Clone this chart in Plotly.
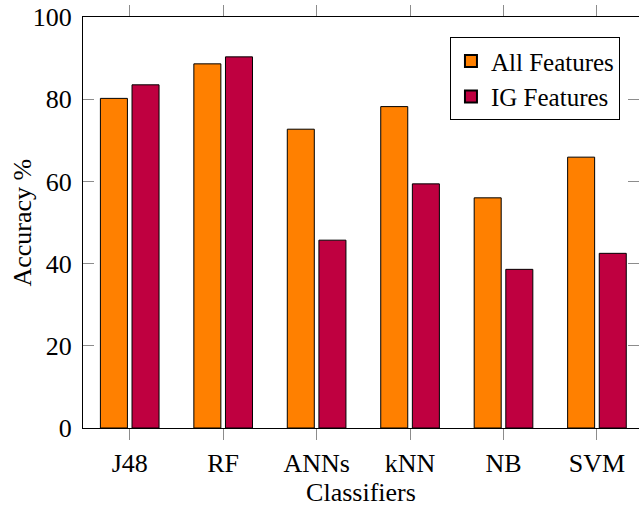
import plotly.graph_objects as go

classifiers = ["J48", "RF", "ANNs", "kNN", "NB", "SVM"]
all_features = [80.2, 88.6, 72.7, 78.2, 56.0, 65.9]
ig_features = [83.5, 90.3, 45.7, 59.4, 38.6, 42.5]
y_ticks = [0, 20, 40, 60, 80, 100]

FONT = "Liberation Serif"

fig = go.Figure()
fig.add_trace(go.Bar(x=classifiers, y=all_features, name="All Features",
                     marker=dict(color="#FF8000", line=dict(color="black", width=1))))
fig.add_trace(go.Bar(x=classifiers, y=ig_features, name="IG Features",
                     marker=dict(color="#BF0040", line=dict(color="black", width=1))))

fig.update_layout(
    width=639, height=508,
    margin=dict(l=83, r=0, t=17, b=80, autoexpand=False),
    paper_bgcolor="white", plot_bgcolor="white",
    barmode="group", bargap=0.323, bargroupgap=0.146,
    font=dict(family=FONT, size=26, color="black"),
    showlegend=True,
    legend=dict(x=0.66, y=0.951, xanchor="left", yanchor="top",
                bgcolor="white", bordercolor="black", borderwidth=1,
                font=dict(family=FONT, size=25), tracegroupgap=0,
                itemsizing="constant", entrywidth=160, entrywidthmode="pixels"),
    annotations=[dict(text="Accuracy %", xref="paper", yref="paper",
                      x=(22 - 83) / 556, y=0.5, xanchor="center", yanchor="middle",
                      textangle=-90, showarrow=False,
                      font=dict(family=FONT, size=26))],
)
fig.update_xaxes(
    range=[-0.5, 5.45], showline=True, linecolor="black", linewidth=1,
    mirror="ticks", ticks="outside", ticklen=11, tickcolor="#8c8c8c", tickwidth=1,
    showgrid=False, zeroline=False, automargin=False,
    title=dict(text="Classifiers", font=dict(family=FONT, size=26), standoff=3),
    tickfont=dict(family=FONT, size=26), ticklabelstandoff=1,
)
fig.update_yaxes(
    range=[0, 100], tickvals=y_ticks, showline=True, linecolor="black", linewidth=1,
    mirror="ticks", ticks="inside", ticklen=11, tickcolor="#8c8c8c", tickwidth=1,
    showgrid=False, zeroline=False, automargin=False, ticklabeloverflow="allow",
    tickfont=dict(family=FONT, size=26), ticklabelstandoff=5,
)

fig.write_html(
    "out.html",
    config={"displayModeBar": False},
    post_script="document.body.style.margin='0';"
                "document.documentElement.style.overflow='hidden';",
)
